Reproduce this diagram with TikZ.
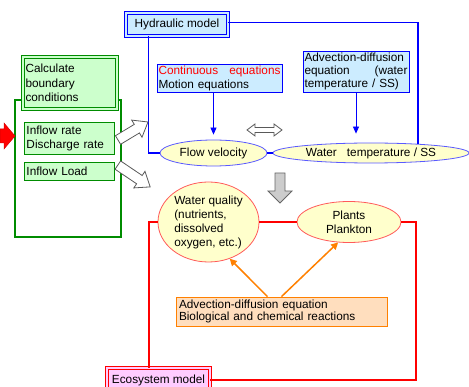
\documentclass[tikz,border=0pt]{standalone}
\usepackage{fontspec}
\setmainfont{Liberation Sans}
\usetikzlibrary{shapes.geometric,arrows.meta}
\definecolor{hblue}{RGB}{0,0,255}
\definecolor{hfill}{RGB}{204,236,255}
\definecolor{eblue}{RGB}{90,90,255}
\definecolor{efill}{RGB}{255,255,204}
\definecolor{ered}{RGB}{255,90,90}
\definecolor{gline}{RGB}{0,140,0}
\definecolor{gfill}{RGB}{204,255,204}
\definecolor{pfill}{RGB}{255,204,255}
\definecolor{oline}{RGB}{255,128,0}
\definecolor{ofill}{RGB}{255,222,190}
\colorlet{hollowcol}{black!65}
\tikzstyle{txt}=[font=\fontsize{11.8}{14}\selectfont]
\tikzstyle{hbox}=[txt, rectangle, draw=hblue, fill=hfill, line width=0.6pt, inner sep=1.5pt, align=left]
\tikzstyle{hmodel}=[hbox, double=hfill, double distance=1.5pt, line width=0.9pt]
\tikzstyle{gbox}=[txt, rectangle, draw=gline, fill=gfill, line width=0.6pt, inner sep=2.5pt, align=left]
\tikzstyle{gmodel}=[gbox, double=gfill, double distance=1.5pt, line width=0.9pt]
\tikzstyle{gframe}=[rectangle, draw=gline, line width=1.5pt, inner sep=0pt]
\tikzstyle{emodel}=[txt, rectangle, draw=red, fill=pfill, double=pfill, double distance=1.5pt, line width=0.9pt, inner sep=2pt]
\tikzstyle{obox}=[txt, rectangle, draw=oline, fill=ofill, line width=0.8pt, inner sep=3pt, align=left]
\tikzstyle{hblob}=[txt, ellipse, draw=eblue, fill=efill, line width=0.8pt, inner sep=0pt, align=center]
\tikzstyle{eblob}=[txt, ellipse, draw=ered, fill=efill, line width=0.8pt, inner sep=0pt, align=center]
\tikzstyle{hline}=[hblue, line width=1.8pt]
\tikzstyle{eline}=[red, line width=1.8pt]
\tikzstyle{harrow}=[hblue, line width=0.8pt, -{Triangle[width=6pt,length=7pt]}]
\tikzstyle{oarrow}=[oline, line width=1.5pt, -{Triangle[width=7pt,length=7pt]}]
\tikzstyle{hollow}=[draw=hollowcol, fill=white, line width=0.8pt]
\tikzstyle{block}=[draw=black!60, fill=black!20, line width=0.8pt]

\begin{document}
\begin{tikzpicture}[x=1pt, y=-1pt]
			\useasboundingbox (0,0) rectangle (469,387);

			% Hydraulic model
			\node[hmodel, minimum width=102, minimum height=23] (hydbox) at (177, 24.5) {Hydraulic model};
			\node[hbox, text width=122, minimum height=28] (contbox) at (219.5, 78)
				{{\color{red}Continuous\hfill equations}\\Motion equations};
			\node[hbox, text width=103, minimum height=41, font=\fontsize{11.8}{13}\selectfont] (advbox) at (356, 71.5)
				{Advection-diffusion\\equation\hfill(water\\temperature / SS)};
			\node[hblob, minimum width=107, minimum height=26] (flowvel) at (213.5, 153) {Flow velocity};
			\node[hblob, minimum width=196, minimum height=20] (watertemp) at (371, 153) {Water\hspace{10pt}temperature / SS};

			% Boundary conditions
			\node[gframe, minimum width=106, minimum height=137] (gframe) at (68, 168.5) {};
			\node[gmodel, text width=89, minimum height=52] (calcbox) at (70, 83) {Calculate\\[0.5pt]boundary\\[0.5pt]conditions};
			\node[gbox, text width=85, minimum height=32] (inflowbox) at (69, 138) {Inflow rate\\Discharge rate};
			\node[gbox, text width=85, minimum height=18] (loadbox) at (69, 171) {Inflow Load};

			% Ecosystem model
			\node[eblob, minimum width=101, minimum height=80, align=left] (wq) at (208.5, 222)
				{Water quality\\(nutrients,\\dissolved\\oxygen, etc.)};
			\node[eblob, minimum width=104, minimum height=41] (plants) at (349, 222) {Plants\\Plankton};
			\node[obox, text width=205, minimum height=29, font=\fontsize{11.8}{11.5}\selectfont] (orbox) at (281.5, 311.5)
				{Advection-diffusion equation\\Biological and chemical reactions};
			\node[emodel, minimum width=103, minimum height=24] (ecobox) at (158.5, 380) {Ecosystem model};
			\coordinate (eright) at (416, 380);

			% Blue frame
			\draw[hline] ([yshift=2pt]hydbox.east) -| (watertemp.11);
			\draw[hline] ([xshift=23pt]hydbox.south west) |- (flowvel.west);
			\draw[hblue, line width=1.2pt] (flowvel.east) -- (watertemp.west);
			\draw[harrow] (contbox.south -| flowvel.north) -- ([yshift=5pt]flowvel.north);
			\draw[harrow] (advbox.south) -- ([yshift=9pt]advbox.south |- watertemp.north);

			% Red frame
			\draw[eline] (wq.west) -| ([xshift=-9.5pt]ecobox.north);
			\draw[eline] (wq.east) -- (plants.west);
			\draw[eline] (plants.east) -| (eright) -- (ecobox.east);
			\draw[oarrow] ([xshift=-14pt]orbox.north) -- (wq.-60);
			\draw[oarrow] (orbox.north) -- (plants.-118);

			% Block arrows
			\draw[fill=red, draw=red!85!black, line width=0.5pt] (0,129) -- (4,129) -- (4,123) -- (15,136) -- (4,149) -- (4,143) -- (0,143) -- cycle;
			\draw[hollow, shift={(133,131)}, rotate=31] (-17.5,-5) -- (4.5,-5) -- (4.5,-10) -- (17.5,0) -- (4.5,10) -- (4.5,5) -- (-17.5,5) -- cycle;
			\draw[hollow, shift={(134,176)}, rotate=-34] (-19.5,-5) -- (6.5,-5) -- (6.5,-10) -- (19.5,0) -- (6.5,10) -- (6.5,5) -- (-19.5,5) -- cycle;
			\draw[hollow, shift={(264.5,130)}] (-17.5,0) -- (-9.5,6) -- (-9.5,2.5) -- (9.5,2.5) -- (9.5,6) -- (17.5,0) -- (9.5,-6) -- (9.5,-2.5) -- (-9.5,-2.5) -- (-9.5,-6) -- cycle;
			\draw[block] (275,173) -- (285,173) -- (285,191) -- (292,191) -- (280,203) -- (268,191) -- (275,191) -- cycle;
		\end{tikzpicture}
\end{document}
